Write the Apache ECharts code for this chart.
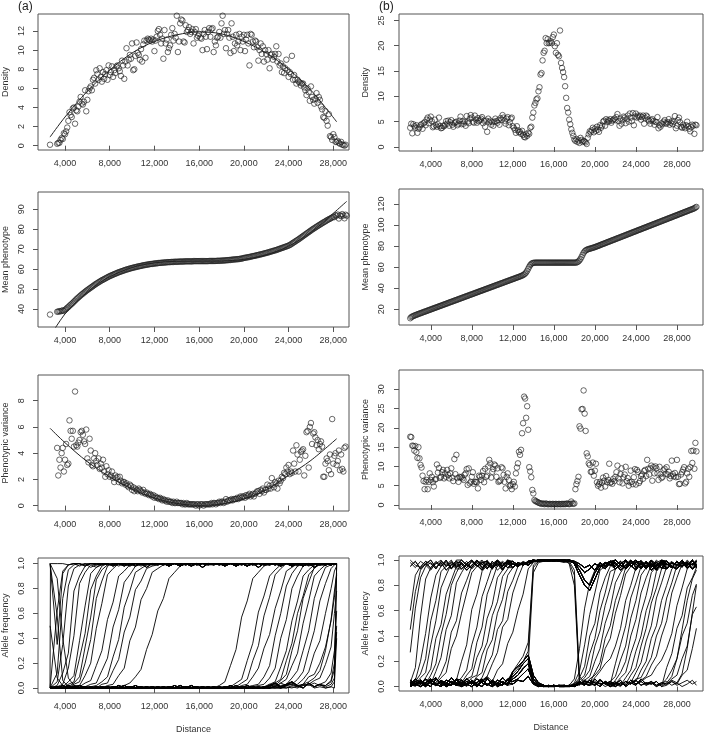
<!DOCTYPE html>
<html><head><meta charset="utf-8">
<script src="https://cdn.jsdelivr.net/npm/echarts@6.0.0/dist/echarts.min.js"></script>
<style>html,body{margin:0;padding:0;background:#fff}#c{width:709px;height:734px}</style>
</head><body><div id="c"></div>
<script>
// ================= DATA =================
// tick labels
const xTicks = [4000, 8000, 12000, 16000, 20000, 24000, 28000];
const densTicksA = [0, 2, 4, 6, 8, 10, 12];
const densTicksB = [0, 5, 10, 15, 20, 25];
const meanTicksA = [40, 50, 60, 70, 80, 90];
const meanTicksB = [20, 40, 60, 80, 100, 120];
const varTicksA = [0, 2, 4, 6, 8];
const varTicksB = [0, 5, 10, 15, 20, 25, 30];
const freqTicks = [0, 0.2, 0.4, 0.6, 0.8, 1.0];

// deme positions (distance), scenario (a)
const distA = [2660,
3300,3400,3500,3600,3700,3800,3900,4000,4100,4200,
4300,4400,4500,4600,4700,4800,4900,5000,5100,5200,
5300,5400,5500,5600,5700,5800,5900,6000,6100,6200,
6300,6400,6500,6600,6700,6800,6900,7000,7100,7200,
7300,7400,7500,7600,7700,7800,7900,8000,8100,8200,
8300,8400,8500,8600,8700,8800,8900,9000,9100,9200,
9300,9400,9500,9600,9700,9800,9900,10000,10100,10200,
10300,10400,10500,10600,10700,10800,10900,11000,11100,11200,
11300,11400,11500,11600,11700,11800,11900,12000,12100,12200,
12300,12400,12500,12600,12700,12800,12900,13000,13100,13200,
13300,13400,13500,13600,13700,13800,13900,14000,14100,14200,
14300,14400,14500,14600,14700,14800,14900,15000,15100,15200,
15300,15400,15500,15600,15700,15800,15900,16000,16100,16200,
16300,16400,16500,16600,16700,16800,16900,17000,17100,17200,
17300,17400,17500,17600,17700,17800,17900,18000,18100,18200,
18300,18400,18500,18600,18700,18800,18900,19000,19100,19200,
19300,19400,19500,19600,19700,19800,19900,20000,20100,20200,
20300,20400,20500,20600,20700,20800,20900,21000,21100,21200,
21300,21400,21500,21600,21700,21800,21900,22000,22100,22200,
22300,22400,22500,22600,22700,22800,22900,23000,23100,23200,
23300,23400,23500,23600,23700,23800,23900,24000,24100,24200,
24300,24400,24500,24600,24700,24800,24900,25000,25100,25200,
25300,25400,25500,25600,25700,25800,25900,26000,26100,26200,
26300,26400,26500,26600,26700,26800,26900,27000,27100,27200,
27300,27400,27500,27600,27700,27800,27900,28000,28100,28200,
28300,28400,28500,28600,28700,28800,28900,29000,29100,29200];

const densA = [0.1,
0.2,0.3,0.3,0.6,0.8,0.7,1.3,1.2,1.5,1.9,
2.6,3.5,3.2,3.0,3.9,4.0,2.3,3.7,3.6,4.1,
4.6,5.1,4.4,4.3,4.6,5.8,3.6,4.8,5.7,6.0,
6.2,5.8,6.9,7.1,6.5,7.9,7.5,6.9,8.1,7.2,
6.7,7.7,7.0,7.5,7.9,6.9,8.4,7.4,7.7,8.3,
7.2,7.9,7.6,8.3,8.4,8.1,7.8,7.3,8.9,8.4,
7.0,8.8,10.2,8.4,9.0,9.5,9.1,10.7,7.9,8.0,
9.4,10.8,9.7,9.5,9.0,10.1,8.8,10.6,11.0,9.2,
11.0,11.2,11.1,11.0,11.2,10.9,11.1,9.9,11.0,11.4,
12.0,12.2,11.6,10.7,11.2,9.1,12.1,10.7,11.1,9.8,
10.2,10.5,11.6,12.3,11.0,11.7,11.3,13.6,9.8,10.9,
12.8,13.2,13.1,10.9,10.8,12.6,11.9,12.1,12.4,11.7,
11.9,12.2,10.7,11.9,12.2,11.3,11.5,11.7,11.3,11.2,
10.0,11.7,12.1,11.4,10.1,11.9,12.3,11.4,12.2,12.3,
9.8,10.9,10.5,11.3,11.4,11.9,11.3,12.8,13.6,11.7,
12.1,10.2,11.7,12.1,11.3,9.7,12.8,11.4,9.9,10.7,
11.6,10.5,10.9,11.7,10.0,11.4,10.9,11.6,9.9,11.1,
11.6,10.7,8.4,11.7,11.6,10.9,10.3,11.0,10.9,10.3,
8.9,10.0,10.7,9.6,10.4,8.8,10.0,9.6,9.0,10.0,
8.1,9.5,9.6,9.0,9.3,9.6,10.4,8.8,9.6,8.4,
8.6,7.7,8.3,7.6,8.1,9.0,7.9,7.2,7.7,7.5,
9.4,6.9,7.4,6.9,6.5,6.9,6.7,6.6,6.3,6.5,
6.5,6.1,5.8,5.3,6.0,5.6,4.7,6.2,5.1,4.8,
4.4,4.9,5.5,4.5,5.1,4.8,4.1,3.8,3.0,2.9,
3.6,2.6,2.1,3.3,1.0,0.9,0.6,1.2,0.9,0.4,
0.4,0.5,0.3,0.2,0.4,0.1,0.1,0.0,0.1,null];

const meanA = [37.2,
38.6,38.7,38.9,38.8,39.1,39.3,39.0,39.6,40.0,40.6,
41.0,41.6,42.1,42.6,43.1,43.7,44.2,44.8,45.3,45.8,
46.3,46.8,47.3,47.7,48.2,48.6,49.1,49.5,49.9,50.3,
50.7,51.1,51.5,51.9,52.3,52.7,53.0,53.4,53.7,54.1,
54.4,54.7,55.0,55.3,55.6,55.9,56.2,56.5,56.7,57.0,
57.2,57.5,57.7,57.9,58.2,58.4,58.6,58.8,59.0,59.2,
59.4,59.6,59.8,59.9,60.1,60.3,60.4,60.6,60.7,60.9,
61.0,61.1,61.3,61.4,61.5,61.6,61.8,61.9,62.0,62.1,
62.2,62.3,62.4,62.5,62.6,62.6,62.7,62.8,62.9,62.9,
63.0,63.1,63.1,63.2,63.2,63.3,63.3,63.4,63.4,63.5,
63.5,63.5,63.6,63.6,63.6,63.7,63.7,63.7,63.7,63.8,
63.8,63.8,63.8,63.8,63.9,63.9,63.9,63.9,63.9,63.9,
63.9,63.9,64.0,64.0,64.0,64.0,64.0,64.0,64.0,64.0,
64.0,64.0,64.0,64.0,64.0,64.0,64.1,64.1,64.1,64.1,
64.1,64.1,64.1,64.2,64.2,64.2,64.2,64.3,64.3,64.3,
64.4,64.4,64.5,64.5,64.6,64.6,64.7,64.8,64.8,64.9,
64.9,65.0,65.0,65.1,65.2,65.3,65.4,65.6,65.7,65.8,
65.9,66.0,66.1,66.2,66.4,66.5,66.6,66.7,66.9,67.0,
67.1,67.3,67.4,67.5,67.7,67.8,68.0,68.1,68.3,68.4,
68.6,68.8,68.9,69.1,69.3,69.4,69.6,69.8,70.0,70.2,
70.4,70.6,70.8,71.0,71.2,71.4,71.6,71.8,72.1,72.4,
72.8,73.2,73.5,73.9,74.3,74.6,75.0,75.4,75.8,76.2,
76.6,77.0,77.4,77.8,78.2,78.6,79.0,79.4,79.8,80.2,
80.5,80.9,81.3,81.6,82.0,82.3,82.7,83.0,83.4,83.7,
84.0,84.4,84.7,85.0,85.3,85.6,85.9,86.3,86.1,87.0,
86.8,87.4,85.4,87.0,86.6,87.6,86.9,85.5,87.3,86.8];

const varA = [null,
4.4,2.3,3.5,2.9,4.0,4.4,2.6,3.5,4.7,3.1,
3.2,6.5,5.7,5.1,5.7,4.5,8.7,4.6,4.5,4.8,
5.0,5.6,5.7,5.4,4.9,4.7,5.8,3.6,3.3,5.1,
4.2,3.1,3.0,3.6,4.0,3.4,3.1,3.6,2.8,3.2,
2.9,3.5,2.6,2.2,3.0,2.4,2.7,2.2,2.3,2.6,
2.1,1.8,2.3,2.1,2.2,1.8,2.2,1.9,1.7,1.8,
1.8,1.6,1.7,1.5,1.4,1.6,1.5,1.2,1.4,1.1,
1.3,1.2,1.1,1.3,1.2,1.1,1.0,1.2,1.0,0.9,
1.0,0.9,0.8,0.9,0.8,0.7,0.8,0.6,0.7,0.6,
0.6,0.5,0.6,0.5,0.4,0.5,0.4,0.4,0.3,0.4,
0.3,0.3,0.3,0.2,0.3,0.2,0.2,0.3,0.2,0.2,
0.2,0.2,0.1,0.2,0.1,0.1,0.2,0.1,0.1,0.1,
0.1,0.1,0.1,0.1,0.0,0.1,0.1,0.0,0.1,0.1,
0.1,0.0,0.1,0.1,0.1,0.1,0.1,0.1,0.2,0.1,
0.2,0.2,0.1,0.2,0.2,0.3,0.2,0.3,0.3,0.2,
0.3,0.5,0.3,0.4,0.4,0.4,0.5,0.4,0.5,0.5,
0.5,0.6,0.5,0.6,0.7,0.6,0.7,0.7,0.6,0.8,
0.7,0.8,0.9,0.7,0.8,0.9,0.7,0.9,1.0,1.1,
1.1,0.9,1.2,1.1,1.3,1.0,1.2,1.2,1.6,1.3,
1.5,1.3,2.1,1.6,1.4,1.8,1.7,1.3,1.9,1.7,
1.9,2.2,2.1,2.5,2.4,2.9,2.6,3.1,2.4,2.6,
2.5,4.2,3.2,2.6,4.6,3.9,2.6,3.5,4.1,4.2,
4.3,2.3,3.8,5.6,5.7,2.9,6.0,6.3,4.7,5.5,
5.6,5.2,4.6,5.0,4.3,4.7,4.9,4.5,2.2,2.2,
3.2,3.6,3.4,2.7,3.9,2.4,6.6,3.2,3.8,4.0,
3.1,3.4,4.2,2.7,3.9,2.8,2.6,4.4,4.5,null];

// fitted curves, scenario (a)
const fitXA = [2660,4000,6000,8000,10000,12000,14000,16000,18000,20000,22000,24000,26000,28300];
const fitDensA = [0.9,3.0,5.7,7.9,9.7,10.9,11.6,11.9,11.7,10.9,9.7,8.0,5.8,2.5];
const fitVarA = [5.9,4.8,3.35,2.2,1.25,0.58,0.17,0.02,0.12,0.5,1.2,2.3,3.45,5.1];
const fitMeanXA = [3100,4000,5000,6000,7000,8000,10000,12000,14000,16000,18000,20000,22000,24000,26000,27000,28000,29200];
const fitMeanA = [30.2,37.5,43.5,48.5,52.8,56.2,60.8,63.1,63.9,64.0,64.1,64.9,67.2,71.5,78.5,83.0,88.0,94.0];

// deme positions (distance), scenario (b)
const distB = [
2000,2100,2200,2300,2400,2500,2600,2700,2800,2900,
3000,3100,3200,3300,3400,3500,3600,3700,3800,3900,
4000,4100,4200,4300,4400,4500,4600,4700,4800,4900,
5000,5100,5200,5300,5400,5500,5600,5700,5800,5900,
6000,6100,6200,6300,6400,6500,6600,6700,6800,6900,
7000,7100,7200,7300,7400,7500,7600,7700,7800,7900,
8000,8100,8200,8300,8400,8500,8600,8700,8800,8900,
9000,9100,9200,9300,9400,9500,9600,9700,9800,9900,
10000,10100,10200,10300,10400,10500,10600,10700,10800,10900,
11000,11100,11200,11300,11400,11500,11600,11700,11800,11900,
12000,12100,12200,12300,12400,12500,12600,12700,12800,12900,
13000,13100,13200,13300,13400,13500,13600,13700,13800,13900,
14000,14100,14200,14300,14400,14500,14600,14700,14800,14900,
15000,15100,15200,15300,15400,15500,15600,15700,15800,15900,
16000,16100,16200,16300,16400,16500,16600,16700,16800,16900,
17000,17100,17200,17300,17400,17500,17600,17700,17800,17900,
18000,18100,18200,18300,18400,18500,18600,18700,18800,18900,
19000,19100,19200,19300,19400,19500,19600,19700,19800,19900,
20000,20100,20200,20300,20400,20500,20600,20700,20800,20900,
21000,21100,21200,21300,21400,21500,21600,21700,21800,21900,
22000,22100,22200,22300,22400,22500,22600,22700,22800,22900,
23000,23100,23200,23300,23400,23500,23600,23700,23800,23900,
24000,24100,24200,24300,24400,24500,24600,24700,24800,24900,
25000,25100,25200,25300,25400,25500,25600,25700,25800,25900,
26000,26100,26200,26300,26400,26500,26600,26700,26800,26900,
27000,27100,27200,27300,27400,27500,27600,27700,27800,27900,
28000,28100,28200,28300,28400,28500,28600,28700,28800,28900,
29000,29100,29200,29300,29400,29500,29600,29700,29800,29900];

const densB = [
3.8,4.6,2.7,4.5,4.1,3.8,4.3,2.8,3.6,3.9,
4.3,4.5,3.6,4.7,4.9,4.3,5.4,5.8,4.7,5.4,
6.0,5.1,3.9,4.1,5.4,4.3,4.0,4.5,5.8,4.1,
3.7,3.8,4.2,4.1,4.4,5.1,4.6,5.2,4.2,4.9,
5.3,4.4,4.0,4.7,4.9,5.0,4.3,4.6,5.2,6.0,
4.5,5.1,4.6,5.0,4.2,6.1,5.0,4.7,5.6,6.3,
5.8,5.0,4.8,6.2,5.4,4.8,5.7,5.1,5.3,5.6,
5.9,4.7,5.2,4.0,5.2,3.0,5.6,4.9,5.2,4.4,
4.9,4.2,5.0,5.6,5.1,4.8,5.3,4.4,5.7,5.4,
6.3,5.8,5.2,4.6,5.6,5.9,4.3,4.9,5.6,5.8,
4.1,3.8,3.4,2.8,4.1,3.3,2.9,3.0,2.6,3.2,
2.4,2.0,1.9,2.5,2.2,2.8,2.6,3.8,4.0,5.8,
6.8,8.2,8.7,9.4,9.6,11.0,11.8,14.3,14.6,17.1,
18.6,19.0,21.5,20.5,21.3,20.5,20.6,20.9,20.5,21.7,
22.2,19.9,18.6,20.5,18.2,17.9,23.0,16.6,15.6,14.8,
13.8,12.0,9.7,7.7,6.8,5.4,4.5,3.5,2.8,2.2,
1.5,1.2,1.6,1.0,1.3,0.8,1.8,1.4,1.0,1.2,
1.1,0.9,0.6,1.8,2.5,3.1,2.9,3.3,3.8,2.9,
3.6,3.2,4.0,3.4,3.0,4.3,3.8,4.2,5.0,5.2,
4.2,5.5,4.9,5.3,5.1,5.5,4.8,5.2,5.4,5.6,
5.3,5.9,6.5,5.1,4.2,5.6,4.6,5.3,6.0,5.8,
4.7,5.5,6.2,5.0,6.6,5.8,5.1,6.7,4.3,6.0,
6.6,5.8,6.2,5.9,6.2,5.4,5.9,6.2,4.6,5.7,
6.2,6.0,5.4,5.1,4.6,5.3,5.5,5.1,4.4,5.0,
4.9,5.9,3.7,4.3,4.0,4.7,4.5,5.0,5.3,4.7,
4.6,4.9,5.5,4.4,4.8,5.1,4.5,5.0,6.1,3.7,
4.2,5.3,5.8,4.9,4.0,3.8,4.4,4.0,3.7,4.3,
5.0,4.1,3.6,3.1,3.9,4.4,4.2,2.6,4.4,4.3];

const meanB = [
11.5,12.6,13.2,13.5,14.1,14.4,14.8,15.2,15.6,15.9,
16.3,16.6,17.0,17.4,17.7,18.1,18.4,18.8,19.2,19.5,
19.9,20.2,20.6,21.0,21.3,21.7,22.0,22.4,22.8,23.1,
23.5,23.8,24.2,24.6,24.9,25.3,25.6,26.0,26.4,26.7,
27.1,27.4,27.8,28.2,28.5,28.9,29.2,29.6,30.0,30.3,
30.7,31.0,31.4,31.8,32.1,32.5,32.8,33.2,33.6,33.9,
34.3,34.6,35.0,35.4,35.7,36.1,36.4,36.8,37.2,37.5,
37.9,38.2,38.6,39.0,39.3,39.7,40.0,40.4,40.8,41.1,
41.5,41.8,42.2,42.6,42.9,43.3,43.6,44.0,44.4,44.7,
45.1,45.4,45.8,46.2,46.5,46.9,47.2,47.6,48.0,48.3,
48.7,49.0,49.4,49.8,50.1,50.5,50.8,51.2,51.6,52.0,
52.5,53.1,53.9,55.0,56.6,58.5,60.4,62.0,63.1,63.8,
64.1,64.2,64.3,64.3,64.3,64.3,64.3,64.3,64.3,64.3,
64.3,64.3,64.3,64.3,64.3,64.3,64.3,64.3,64.3,64.3,
64.3,64.3,64.3,64.3,64.3,64.3,64.3,64.3,64.3,64.3,
64.3,64.3,64.3,64.3,64.3,64.3,64.3,64.3,64.3,64.3,
64.3,64.3,64.4,64.8,65.5,66.5,67.9,69.7,71.7,73.6,
75.0,75.9,76.5,76.9,77.2,77.5,77.8,78.1,78.4,78.7,
79.0,79.4,79.8,80.1,80.5,80.9,81.3,81.7,82.1,82.4,
82.8,83.2,83.6,84.0,84.3,84.7,85.1,85.5,85.9,86.2,
86.6,87.0,87.4,87.8,88.1,88.5,88.9,89.3,89.7,90.0,
90.4,90.8,91.2,91.6,91.9,92.3,92.7,93.1,93.5,93.8,
94.2,94.6,95.0,95.4,95.7,96.1,96.5,96.9,97.3,97.6,
98.0,98.4,98.8,99.2,99.5,99.9,100.3,100.7,101.1,101.4,
101.8,102.2,102.6,103.0,103.3,103.7,104.1,104.5,104.9,105.2,
105.6,106.0,106.4,106.8,107.1,107.5,107.9,108.3,108.7,109.0,
109.4,109.8,110.2,110.6,110.9,111.3,111.7,112.1,112.5,112.8,
113.2,113.6,114.0,114.4,114.7,115.1,115.5,115.9,116.6,117.2];

const varB = [
17.7,17.6,15.4,15.3,14.1,15.3,13.7,12.2,15.0,12.1,
10.4,9.7,7.6,6.2,4.1,6.0,6.5,4.1,6.0,8.2,
6.5,7.3,5.9,4.8,6.6,6.7,10.5,8.4,9.6,7.0,
7.3,8.5,9.1,6.9,8.2,7.3,9.1,7.8,6.9,8.2,
9.5,7.1,6.2,11.9,8.0,13.0,7.0,6.0,7.3,7.1,
7.3,6.9,6.5,7.8,8.2,9.3,5.2,9.5,5.6,6.0,
7.3,8.5,5.5,6.0,6.0,5.9,4.3,7.6,7.3,6.5,
7.6,8.8,5.9,9.4,7.3,7.6,10.0,11.7,10.8,7.1,
8.6,9.3,10.5,10.2,7.3,9.5,6.0,6.2,6.4,9.8,
9.5,7.8,6.0,4.3,7.3,8.2,6.5,4.9,5.2,4.1,
5.4,6.0,4.8,8.2,9.7,10.8,13.8,13.0,14.3,18.6,
21.2,28.1,27.6,22.6,25.6,19.5,9.8,8.7,7.2,3.9,
3.0,1.3,1.0,0.9,0.8,0.6,0.5,0.4,0.3,0.4,
0.3,0.2,0.4,0.3,0.2,0.2,0.3,0.2,0.2,0.3,
0.2,0.2,0.3,0.2,0.2,0.3,0.2,0.2,0.3,0.2,
0.3,0.2,0.3,0.4,0.3,0.2,0.3,0.9,0.4,0.3,
0.4,4.1,5.4,6.2,7.3,20.4,19.8,24.8,24.9,29.7,
23.7,19.2,13.4,12.6,10.8,10.4,8.6,8.6,11.0,7.6,
8.9,10.7,5.9,5.0,5.4,6.0,4.5,5.8,7.1,6.3,
4.8,7.5,5.9,6.5,10.7,5.7,6.0,5.5,6.8,6.2,
7.3,8.5,10.2,6.9,5.9,8.0,9.5,5.6,7.2,7.9,
9.9,6.2,7.0,5.0,5.9,8.9,6.0,5.4,7.2,9.3,
5.3,9.1,8.6,5.7,6.2,7.5,7.9,6.8,8.8,9.1,
7.5,11.7,9.4,7.9,9.5,10.2,6.3,9.8,8.2,10.0,
9.5,8.2,6.5,9.9,8.0,7.0,7.3,9.0,9.4,8.1,
9.8,7.9,8.6,6.9,7.5,11.5,8.0,7.4,8.3,7.2,
11.7,7.3,5.4,5.5,7.9,8.5,9.2,9.8,5.6,6.0,
8.2,9.4,7.3,9.8,14.0,10.9,14.1,9.4,16.1,13.9];

// ---- allele frequencies (percent), scenario (a) ----
const freqXA = [2660,2700,3300,3800,4300,4800,5300,5800,6300,6800,
7300,7800,8300,8800,9300,9800,10300,10800,11300,11800,
12300,12800,13300,13800,14300,14800,15300,15800,16300,16800,
17300,17800,18300,18800,19300,19800,20300,20800,21300,21800,
22300,22800,23300,23800,24300,24800,25300,25800,26300,26800,
27300,27800,28100,28300];
const za1 = [0,1,0,0,2,0,0,1,0,0];
const za2 = [1,0,0,2,0,1,0,0,0,1];
const za3 = [0,0,1,0,0,0,2,0,1,0];
const za4 = [2,4,1,3,5,2,0,4,1,3];
const fa1 = [100,99,100,100,98,100,100,99,100,100];
const fa2 = [99,100,98,100,100,99,100,100,97,100];
const fa3 = [100,100,99,100,99,100,98,100,100,99];
const ea1 = [100,99,100,100];
const ea2 = [99,100,100,99];
const freqA = [
[[0,0,12,72,95,99,100,98,100,100],fa1,fa2,fa3,fa1,ea1],
[[0,0,5,35,82,96,99,100,97,99],fa2,fa3,fa1,fa2,ea2],
[[0,0,2,12,28,78,90,98,100,99],fa3,fa1,fa2,fa3,ea1],
[[0,0,1,3,16,42,84,93,99,97],fa1,fa2,fa3,fa1,ea2],
[[0,0,0,1,5,10,38,66,92,97],fa2,fa3,fa1,fa2,ea1],
[[0,0,0,0,3,5,24,44,79,90],[98,100,99,100,100,98,100,100,99,100],fa1,fa2,fa3,ea2],
[[0,0,0,0,1,4,9,33,57,87],[95,99,100,98,100,100,99,100,100,100],fa2,fa3,fa1,ea1],
[[0,0,0,0,0,3,5,20,39,72],[86,98,100,99,100,98,100,100,99,100],fa3,fa1,fa2,ea2],
[[0,0,0,0,0,2,2,10,20,48],[68,91,96,100,99,100,98,100,100,99],fa1,fa2,fa3,ea1],
[[0,0,0,0,0,0,1,4,6,18],[30,55,69,90,94,99,100,98,100,100],fa2,fa3,fa1,ea2],
[[0,0,0,0,0,0,0,1,3,4],[14,24,49,63,85,91,98,100,99,100],fa3,fa1,fa2,ea1],
[[0,0,0,1,0,0,0,0,1,2],[5,9,25,39,65,78,93,96,99,100],fa1,fa2,fa3,ea2],
[[0,0,0,0,1,0,0,1,0,0],[3,4,14,23,45,57,79,86,96,98],fa2,fa3,fa1,ea1],
[[0,0,1,0,0,0,1,0,0,0],[0,2,3,10,16,38,49,71,80,93],[96,99,100,100,98,100,100,99,100,100],fa3,fa2,ea2],
[[0,0,0,0,0,1,0,0,0,1],[0,1,0,1,2,4,9,15,31,43],[62,72,88,93,98,100,99,100,100,100],fa1,fa3,ea1],
[za1,za2,za3,[0,2,5,18,31,57,70,88,93,98],fa1,ea1],
[za2,za3,za1,[0,0,0,1,4,7,22,36,61,74],[90,95,99,100,100,98,100,100,99,100],ea2],
[za3,za1,za2,[0,1,0,0,1,4,7,22,34,58],[73,91,96,100,99,100,100,98,100,100],ea1],
[za1,za3,za2,[0,0,1,0,0,2,3,9,16,32],[43,64,78,94,97,100,99,100,100,99],ea2],
[za2,za1,za3,[0,0,0,1,0,0,1,2,3,9],[18,42,60,82,92,98,100,99,100,100],ea1],
[za3,za2,za1,[1,0,0,0,0,1,0,1,2,3],[8,16,40,55,80,90,98,100,99,100],ea2],
[za1,za2,za3,za1,[3,5,17,30,54,70,90,95,99,100],ea1],
[za2,za3,za1,za2,[1,4,7,22,36,60,74,91,96,100],ea2],
[za3,za1,za2,za3,[0,2,6,11,30,46,72,85,97,99],ea1],
[za1,za3,za2,za1,[0,1,4,7,18,28,52,70,90,95],[99,100,100,99]],
[za2,za1,za3,za2,[0,0,2,3,8,14,30,46,72,86],[97,99,100,100]],
[za3,za2,za1,za3,[0,0,0,2,3,7,13,30,46,70],[84,96,99,100]],
[za1,za2,za3,za1,[0,1,0,0,2,3,7,13,28,38],[60,80,94,98]],
[za2,za3,za1,za2,[1,0,0,1,0,2,3,9,11,20],[33,54,73,91]],
[za3,za1,za2,za3,[0,2,1,0,1,0,2,3,6,8],[19,33,60,78]],
[za1,za3,za2,za1,za4,[5,12,30,62]],
[za2,za1,za3,za2,[3,1,4,2,5,1,3,2,4,2],[2,5,15,45]],
[za3,za2,za1,za3,za4,[1,3,8,100]],
[za1,za2,za3,za2,[1,3,0,2,4,1,2,3,0,1],[0,1,0,100]],
[[0,100,100,100,99,100,100,98,100,100],fa2,fa1,fa3,fa2,ea2],
[[100,100,35,92,99,100,100,99,100,100],fa3,fa2,fa1,fa3,ea1],
[[50,48,8,2,0,1,0,0,1,0],za1,za2,za3,za4,[2,6,20,50]],
[[100,100,58,6,1,0,0,1,0,0],za2,za3,za1,[2,4,1,3,5,2,0,4,1,3],[0,1,5,40]],
[[0,0,62,94,99,100,98,100,100,99],fa1,fa3,fa2,fa1,ea2],
[[100,100,88,40,8,2,0,1,0,0],za3,za1,za2,[0,1,0,2,3,1,3,5,8,14],[30,55,78,92]]
];

// ---- allele frequencies (percent), scenario (b) ----
const freqXB = [2000,2500,3000,3500,4000,4500,5000,5500,6000,6500,
7000,7500,8000,8500,9000,9500,10000,10500,11000,11500,
12000,12500,13000,13500,14000,14500,15000,15500,16000,16500,
17000,17500,18000,18500,19000,19500,20000,20500,21000,21500,
22000,22500,23000,23500,24000,24500,25000,25500,26000,26500,
27000,27500,28000,28500,29000,29500,29900];
const zL1 = [1,4,2,6,3,1,5,2,7,3];
const zL2 = [3,1,5,2,0,6,3,1,4,2];
const zL3 = [0,2,4,1,5,2,0,3,1,6];
const zL4 = [5,2,0,3,6,1,4,0,2,5];
const zL5 = [2,6,3,0,4,7,1,5,3,1];
const fL1 = [98,94,99,96,92,98,95,100,93,97];
const fL2 = [95,99,93,97,100,94,98,92,96,99];
const fL3 = [100,96,94,99,97,93,99,95,98,94];
const fL4 = [93,97,100,95,98,99,94,97,92,98];
const fL5 = [97,92,96,100,94,97,93,99,95,100];
const fM1 = [97,95,98,96,99,100,100,99,100,100];
const fM2 = [94,98,96,99,100,99,100,100,99,100];
const fM3 = [99,96,97,98,99,100,99,100,100,99];
const zM1 = [8,12,18,22,6,2,1,0,1,0];
const zM2 = [4,6,10,14,3,1,0,1,0,1];
const zM3 = [12,16,20,25,9,3,1,0,0,1];
const zM4 = [2,5,4,8,2,0,1,0,1,0];
const zM5 = [6,9,14,18,4,1,0,0,1,0];
const fR1 = [100,99,98,95,90,93,97,95,98,96];
const fR2 = [99,100,97,88,80,76,85,94,97,99];
const fR3 = [100,100,99,97,94,96,92,98,95,99];
const fR4 = [99,100,98,92,84,80,90,96,93,98];
const zR1 = [0,1,0,2,4,3,1,5,2,4];
const zR2 = [1,0,1,3,1,5,3,0,4,2];
const zR3 = [0,0,1,4,2,1,6,2,3,0];
const zB1 = [3,1,4,2,5,1,3,2,4,0];
const zB2 = [0,3,1,5,2,4,1,3,0,2];
const zB3 = [2,5,0,3,1,6,2,4,1,3];
const f5a = [97,94,99,95,98,93,96];
const f5b = [93,98,96,100,94,97,99];
const f5c = [99,95,93,98,96,100,94];
const z5a = [2,4,1,3,5,2,4];
const z5b = [4,1,3,0,2,5,1];
const freqB = [
[[3,15,55,85,94,98,95,100,93,97],fL2,fM1,fR1,fL3,f5a],
[[1,5,20,42,70,88,95,99,94,98],fL1,fM2,fR3,fL4,f5b],
[[2,4,10,22,52,68,91,95,99,95],fL3,fM1,fR2,fL1,f5c],
[[5,2,7,11,33,52,78,88,97,93],fL4,fM3,fR1,fL2,f5a],
[[0,3,1,7,14,38,49,73,84,95],fL5,fM2,fR4,fL3,f5b],
[[2,0,4,2,9,18,41,57,80,90],fL1,fM3,fR2,fL4,f5c],
[[4,1,3,5,2,12,23,45,56,82],[90,97,94,99,96,100,93,98,95,99],fM1,fR3,fL5,f5a],
[[1,3,0,2,6,3,10,20,43,52],[74,84,95,98,93,99,96,100,97,94],fM2,fR1,fL1,f5b],
[[0,2,4,1,5,2,7,11,30,40],[58,74,90,95,99,94,97,100,95,98],fM3,fR4,fL2,f5c],
[zL4,[20,33,61,73,91,96,93,99,96,100],fM1,fR2,fL3,f5a],
[zL1,[7,13,33,47,71,83,95,97,95,99],fM2,fR3,fL4,f5b],
[zL2,[3,9,14,35,47,73,84,96,99,96],fM3,fR1,fL5,f5c],
[zL3,[2,6,8,23,32,54,65,86,92,98],fM1,fR4,fL1,f5a],
[zL5,[4,2,7,9,25,35,56,67,87,93],[98,96,99,97,100,99,100,100,99,100],fR2,fL2,f5b],
[zL1,[1,4,2,8,11,29,37,58,69,88],[94,98,97,99,100,100,99,100,100,99],fR3,fL3,f5c],
[zL2,[3,0,5,3,7,17,25,45,52,75],[84,95,97,96,99,100,100,99,100,100],fR1,fL4,f5a],
[zL3,[1,4,2,6,4,8,18,27,47,53],[74,86,96,99,100,99,100,100,99,100],fR4,fL5,f5b],
[zL4,[2,6,3,1,5,8,4,13,18,34],[43,60,73,93,98,100,99,100,100,99],fR2,fL1,f5c],
[zL5,zL2,[10,14,20,28,94,99,100,99,100,100],fR3,fL2,f5a],
[zL3,zL4,[6,9,15,18,90,98,99,100,100,99],fR1,fL3,f5b],
[zL2,zL1,[12,18,24,35,96,100,100,100,99,100],fR4,fL4,f5c],
[fL1,fL3,fM1,[99,98,88,4,2,5,1,3,0,2],zB1,[3,8,22,45,68,85,92]],
[fL2,fL4,fM2,[100,97,80,2,5,1,4,2,3,1],zB2,z5a],
[fL3,fL5,fM3,[98,99,92,8,3,1,2,6,2,0],zB3,[2,5,3,10,30,58,80]],
[zL1,zL2,zM1,[0,1,6,30,62,82,92,97,94,99],fL1,f5a],
[zL2,zL3,zM2,[1,0,3,12,33,57,74,92,95,99],fL2,f5b],
[zL3,zL4,zM3,[0,1,2,7,16,40,50,74,86,95],fL3,f5c],
[zL4,zL5,zM4,[1,0,2,5,9,26,38,60,74,91],fL4,f5a],
[zL5,zL1,zM5,[0,1,0,3,7,13,32,44,64,78],[93,96,95,99,96,100,94,98,93,97],f5b],
[zL1,zL3,zM1,[1,0,2,1,5,8,20,30,50,62],[82,90,96,99,95,98,93,100,97,94],f5c],
[zL2,zL4,zM2,[0,1,0,2,5,3,11,19,38,48],[68,80,94,97,99,95,98,94,100,96],f5a],
[zL3,zL5,zM3,[1,0,1,3,2,6,9,14,30,38],[58,72,89,95,93,99,97,94,98,100],f5b],
[zL4,zL1,zM4,[0,1,0,2,4,3,7,12,18,22],[32,46,68,80,94,97,95,99,94,97],f5c],
[zL5,zL2,zM5,zR2,[18,33,48,70,82,95,97,96,99,93],f5a],
[zL1,zL3,zM1,zR1,[8,21,32,54,68,88,94,99,96,98],f5b],
[zL2,zL4,zM2,zR3,[5,11,20,40,53,74,86,96,93,99],f5c],
[zL3,zL5,zM3,zR1,[2,7,11,26,38,58,72,90,95,99],f5a],
[zL4,zL1,zM4,zR2,[4,1,7,13,28,40,60,72,91,96],[99,95,98,94,100,96,97]],
[zL5,zL2,zM5,zR3,[1,3,2,9,15,32,46,66,78,93],[96,99,94,98,96,100,95]],
[zL1,zL3,zM1,zR2,[2,0,4,3,11,19,36,48,70,82],[95,97,96,99,93,97,100]],
[zL2,zL4,zM2,zR1,[0,3,1,5,4,13,20,38,48,68],[80,93,96,95,99,96,98]],
[zL3,zL5,zM3,zR3,[3,1,4,2,6,7,15,23,40,50],[70,82,96,97,94,99,97]],
[zL4,zL1,zM4,zR1,[0,3,1,5,2,5,8,17,24,40],[52,74,86,97,98,94,98]],
[zL5,zL2,zM5,zR2,[0,3,1,5,2,4,7,9,16,21],[30,42,64,78,93,97,96]],
[zL1,zL3,zM1,zR3,zB1,[15,26,46,56,78,86,94]],
[zL2,zL4,zM2,zR1,zB2,[6,13,22,40,50,72,81]],
[zL3,zL5,zM3,zR2,zB3,[2,6,9,22,32,57,63]],
[zL4,zL1,zM4,zR3,zB1,[1,4,2,9,13,30,46]],
[[27,62,86,95,98,93,99,96,100,94],fL1,fM2,fR1,fL2,f5b],
[[45,75,92,97,94,99,96,98,93,100],fL3,fM1,fR3,fL4,f5a],
[[60,88,95,99,93,97,100,95,98,96],fL4,fM3,fR2,fL5,f5c],
[fL2,fL5,fM1,fR4,fL3,f5b],
[zL5,zL3,zM4,zR1,zB3,z5b]
];

// ================= LAYOUT / STYLE =================
const FF = '"Liberation Sans", Arial, Helvetica, sans-serif';
const TXT = '#333';
const GRIDS = [
  {left:38, top:14, width:311, height:136},
  {left:399, top:14, width:304, height:137},
  {left:38, top:192, width:311, height:135},
  {left:399, top:189, width:304, height:136},
  {left:38, top:375, width:311, height:136},
  {left:399, top:370, width:304, height:139},
  {left:38, top:558, width:311, height:135},
  {left:399, top:556, width:304, height:135}
];
const XR = [[1585, 29404], [904, 30540]];
const YR = [[-0.45,13.78],[-0.79,26.26],[30.96,98.7],[5.1,134.2],[-0.41,9.96],[-1.04,35.0],[-0.04,1.045],[-0.035,1.032]];
const YT = [densTicksA, densTicksB, meanTicksA, meanTicksB, varTicksA, varTicksB, freqTicks, freqTicks];
const YN = ['Density','Density','Mean phenotype','Mean phenotype','Phenotypic variance','Phenotypic variance','Allele frequency','Allele frequency'];

const fmtK = v => String(v).replace(/\B(?=(\d{3})+(?!\d))/g, ',');

const grid = GRIDS.map(g => Object.assign({show:true, borderColor:'#555', borderWidth:1, backgroundColor:'rgba(0,0,0,0)', containLabel:false, outerBoundsMode:'none'}, g));

const xAxis = GRIDS.map((g, i) => ({
  type:'value', gridIndex:i, min:XR[i%2][0], max:XR[i%2][1],
  axisLine:{show:false}, splitLine:{show:false},
  axisTick:{show:true, inside:false, length:5, customValues:xTicks, lineStyle:{color:'#555', width:1}},
  axisLabel:{show:true, customValues:xTicks, formatter:fmtK, fontSize:9, color:TXT, fontFamily:FF, margin:9},
  name: i >= 6 ? 'Distance' : '', nameLocation:'middle', nameGap:32,
  nameTextStyle:{fontSize:9, color:TXT, fontFamily:FF}
}));

const yAxis = GRIDS.map((g, i) => ({
  type:'value', gridIndex:i, min:YR[i][0], max:YR[i][1],
  axisLine:{show:false}, splitLine:{show:false},
  axisTick:{show:true, inside:false, length:5, customValues:YT[i], lineStyle:{color:'#555', width:1}},
  axisLabel:{show:true, customValues:YT[i], rotate:90, fontSize:9, color:TXT, fontFamily:FF,
    margin: i%2 === 0 ? 11.5 : 13,
    formatter: i >= 6 ? (v => v.toFixed(1)) : (v => String(v))},
  name: YN[i], nameLocation:'middle', nameRotate:90, nameGap: i%2 === 0 ? 27.5 : 29,
  nameTextStyle:{fontSize:9, color:TXT, fontFamily:FF}
}));

const series = [];
function addScatter(i, xs, ys) {
  const data = [];
  xs.forEach((x, k) => { if (ys[k] != null) data.push([x, ys[k]]); });
  series.push({type:'scatter', xAxisIndex:i, yAxisIndex:i, data, symbol:'circle', symbolSize:5.5, silent:true,
    itemStyle:{color:'rgba(255,255,255,0)', borderColor:'#222', borderWidth:0.85}, z:3});
}
function addFit(i, xs, ys) {
  series.push({type:'line', xAxisIndex:i, yAxisIndex:i, data: xs.map((x, k) => [x, ys[k]]),
    symbol:'none', smooth:0.35, silent:true, lineStyle:{color:'#222', width:1}, z:4});
}
function addFreq(i, xs, lines) {
  lines.forEach(rows => {
    const v = rows.flat();
    series.push({type:'line', xAxisIndex:i, yAxisIndex:i, data: xs.map((x, k) => [x, v[k] / 100]),
      symbol:'none', silent:true, lineStyle:{color:'#000', width:0.9}, z:2});
  });
}

addScatter(0, distA, densA); addFit(0, fitXA, fitDensA);
addScatter(1, distB, densB);
addScatter(2, distA, meanA); addFit(2, fitMeanXA, fitMeanA);
addScatter(3, distB, meanB);
addScatter(4, distA, varA); addFit(4, fitXA, fitVarA);
addScatter(5, distB, varB);
addFreq(6, freqXA, freqA);
addFreq(7, freqXB, freqB);

const chart = echarts.init(document.getElementById('c'), null, {renderer:'canvas', width:709, height:734});
chart.setOption({
  animation:false,
  backgroundColor:'#fff',
  textStyle:{fontFamily:FF},
  grid, xAxis, yAxis, series,
  graphic:[
    {type:'text', left:18, top:1, style:{text:'(a)', fontSize:12, fill:'#222', fontFamily:FF}},
    {type:'text', left:379, top:1, style:{text:'(b)', fontSize:12, fill:'#222', fontFamily:FF}}
  ]
});
</script>
</body></html>
